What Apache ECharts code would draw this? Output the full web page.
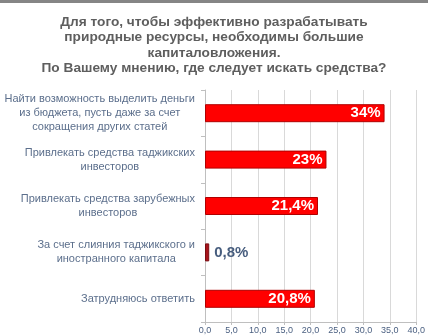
<!DOCTYPE html>
<html>
<head>
<meta charset="utf-8">
<script src="https://cdn.jsdelivr.net/npm/echarts@6/dist/echarts.min.js"></script>
<style>html,body{margin:0;padding:0;background:#fff;}#c{width:428px;height:336px;}</style>
</head>
<body>
<div id="c"></div>
<script>
var titleLines = [
  'Для того, чтобы эффективно разрабатывать',
  'природные ресурсы, необходимы большие',
  'капиталовложения.',
  'По Вашему мнению, где следует искать средства?'
];
var categories = [
  'Найти возможность выделить деньги\nиз бюджета, пусть даже за счет\nсокращения других статей',
  'Привлекать средства таджикских\nинвесторов',
  'Привлекать средства зарубежных\nинвесторов',
  'За счет слияния таджикского и\nиностранного капитала',
  'Затрудняюсь ответить'
];
var values = [34, 23, 21.4, 0.8, 20.8];
var xTicks = [0, 5, 10, 15, 20, 25, 30, 35, 40];

function fmtComma(v, d) { return v.toFixed(d).replace('.', ','); }

var chart = echarts.init(document.getElementById('c'), null, {renderer: 'canvas'});
var data = values.map(function (v) {
  var small = v < 5;
  return {
    value: v,
    itemStyle: small ? {color: '#a8141c', borderColor: '#7a0d12', borderWidth: 1} : {color: '#ff0000', borderColor: '#b00000', borderWidth: 1},
    label: small ? {position: 'right', color: '#475d7e', distance: 5} : {position: 'insideRight', color: '#ffffff', distance: 4}
  };
});
chart.setOption({
  animation: false,
  backgroundColor: '#ffffff',
  graphic: [{type: 'rect', shape: {x: 0, y: 0, width: 428, height: 3}, style: {fill: '#858585'}}],
  title: {
    text: titleLines.join('\n'),
    left: 'center',
    top: 9,
    textStyle: {fontFamily: 'Liberation Sans', fontWeight: 'bold', fontSize: 13.7, lineHeight: 15.5, color: '#5e5e5e'}
  },
  grid: {left: 205, right: 10, top: 90, bottom: 14, containLabel: false},
  xAxis: {
    type: 'value', min: xTicks[0], max: xTicks[xTicks.length - 1], interval: 5,
    axisLine: {show: true, lineStyle: {color: '#bfbfbf'}},
    axisTick: {show: true, length: 3, lineStyle: {color: '#bfbfbf'}},
    splitLine: {show: true, lineStyle: {color: '#d9d9d9'}},
    axisLabel: {fontFamily: 'Liberation Sans', fontSize: 9, color: '#4a5f80', margin: 4,
      formatter: function (v) { return fmtComma(v, 1); }}
  },
  yAxis: {
    type: 'category', data: categories, inverse: true,
    axisLine: {show: true, lineStyle: {color: '#bfbfbf'}},
    axisTick: {show: true, length: 4, lineStyle: {color: '#bfbfbf'}},
    axisLabel: {
      margin: 10, fontFamily: 'Liberation Sans', fontSize: 11, lineHeight: 14, color: '#5c6f8c',
      formatter: function (v) { return v.split('\n').map(function (l) { return '{c|' + l + '}'; }).join('\n'); },
      rich: {c: {align: 'center', fontFamily: 'Liberation Sans', fontSize: 11, lineHeight: 14, color: '#5c6f8c'}}
    }
  },
  series: [{
    type: 'bar', data: data, barWidth: 18,
    label: {show: true, fontFamily: 'Liberation Sans', fontWeight: 'bold', fontSize: 15,
      formatter: function (p) { return fmtComma(p.value, p.value % 1 ? 1 : 0) + '%'; }}
  }]
});
</script>
</body>
</html>
